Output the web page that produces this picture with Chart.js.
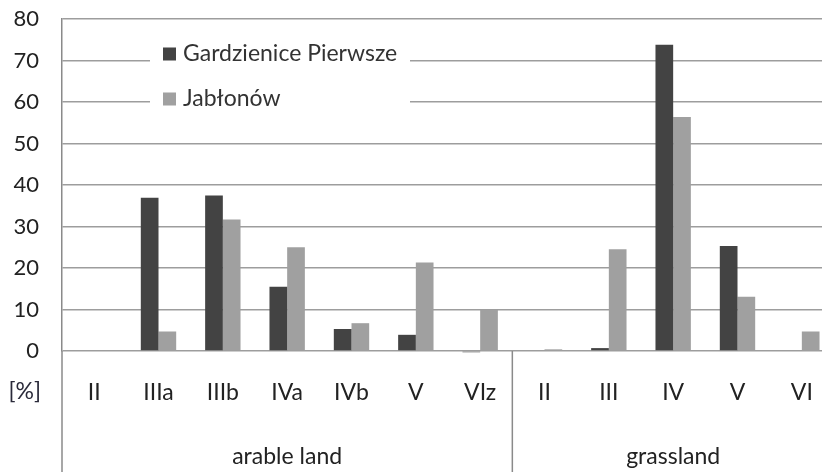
<!DOCTYPE html>
<html lang="en">
  <head>
    <meta charset="UTF-8" />
    <title>Chart</title>
    <style>
      html, body { margin: 0; padding: 0; background: #fff; overflow: hidden; }
      #wrap { width: 834px; height: 472px; }
    </style>
  </head>
  <body>
    <div id="wrap">
      <canvas id="myChart" width="834" height="472"></canvas>
    </div>

    <script src="https://cdn.jsdelivr.net/npm/chart.js"></script>
    <script>
      const classes = ["II", "IIIa", "IIIb", "IVa", "IVb", "V", "VIz", "II", "III", "IV", "V", "VI"];
      const groups = ["", "", "", "arable land", "", "", "", "", "", "grassland", "", ""];
      const gardzienice = [0, 36.9, 37.5, 15.5, 5.3, 3.9, -0.3, 0, 0.7, 73.8, 25.3, 0];
      const jablonow = [0, 4.7, 31.7, 25.0, 6.7, 21.3, 9.9, 0.4, 24.5, 56.4, 13.1, 4.7];
      const yTicks = [0, 10, 20, 30, 40, 50, 60, 70, 80];

      const FONT = "Lato";
      const gridColor = "#9d9d9d";
      const axisColor = "#8a8a8a";

      // draws the legend box, the [%] label and the group separator
      const extras = {
        id: "extras",
        afterDatasetsDraw(chart) {
          const ctx = chart.ctx;
          const area = chart.chartArea;
          const x = chart.scales.x;
          ctx.save();

          // left axis line carried down through the label rows
          ctx.strokeStyle = axisColor;
          ctx.lineWidth = 1.5;
          ctx.beginPath();
          ctx.moveTo(area.left, area.bottom);
          ctx.lineTo(area.left, chart.height);
          const sep = (x.getPixelForValue(6) + x.getPixelForValue(7)) / 2;
          ctx.moveTo(sep, area.bottom);
          ctx.lineTo(sep, chart.height);
          ctx.stroke();

          // [%]
          ctx.fillStyle = "#2a2a3a";
          ctx.font = "23px " + FONT;
          ctx.textAlign = "right";
          ctx.textBaseline = "middle";
          ctx.fillText("[%]", area.left - 21, area.bottom + 41);

          // legend
          ctx.fillStyle = "#ffffff";
          ctx.fillRect(area.left + 88, area.top + 22, 260, 86);
          ctx.font = "23px " + FONT;
          chart.data.datasets.forEach((ds, i) => {
            const cy = area.top + 35 + i * 45;
            ctx.fillStyle = ds.backgroundColor;
            ctx.fillRect(area.left + 101, cy - 6.5, 13, 13);
            ctx.fillStyle = "#333333";
            ctx.textAlign = "left";
            ctx.fillText(ds.label, area.left + 121, cy);
          });
          ctx.restore();
        },
      };

      new Chart(document.getElementById("myChart"), {
        type: "bar",
        data: {
          labels: classes,
          datasets: [
            {
              label: "Gardzienice Pierwsze",
              data: gardzienice,
              backgroundColor: "#434343",
              categoryPercentage: 0.55,
              barPercentage: 1.0,
              clip: false,
            },
            {
              label: "Jabłonów",
              data: jablonow,
              backgroundColor: "#a0a0a0",
              categoryPercentage: 0.55,
              barPercentage: 1.0,
              clip: false,
            },
          ],
        },
        options: {
          responsive: false,
          animation: false,
          devicePixelRatio: 1,
          layout: { padding: { top: 19, right: 0, bottom: 0, left: 0 } },
          plugins: {
            legend: { display: false },
            tooltip: { enabled: false },
          },
          scales: {
            x: {
              weight: 0,
              offset: true,
              // transparent tick marks give the label gap without adding layout padding
              grid: { display: false, drawTicks: true, tickLength: 28, tickColor: "transparent" },
              border: { display: false },
              ticks: {
                color: "#222",
                font: { family: FONT, size: 23 },
                padding: 0,
                autoSkip: false,
                maxRotation: 0,
              },
              afterFit(scale) { scale.height = 60; },
            },
            x2: {
              type: "category",
              position: "bottom",
              weight: 1,
              labels: groups,
              offset: true,
              grid: { display: false, drawTicks: true, tickLength: 32, tickColor: "transparent" },
              border: { display: false },
              ticks: {
                color: "#222",
                font: { family: FONT, size: 23 },
                padding: 0,
                autoSkip: false,
                maxRotation: 0,
              },
              afterFit(scale) { scale.height = 61; },
            },
            y: {
              min: 0,
              max: 80,
              grid: { color: gridColor, lineWidth: 1.5, drawTicks: true, tickLength: 23, tickColor: "transparent" },
              border: { display: true, color: axisColor, width: 1.5 },
              afterBuildTicks(scale) {
                scale.ticks = yTicks.map((v) => ({ value: v }));
              },
              ticks: {
                color: "#222",
                font: { family: FONT, size: 22 },
                padding: 0,
              },
              afterFit(scale) { scale.width = 62; },
            },
          },
        },
        plugins: [extras],
      });
    </script>
  </body>
</html>
